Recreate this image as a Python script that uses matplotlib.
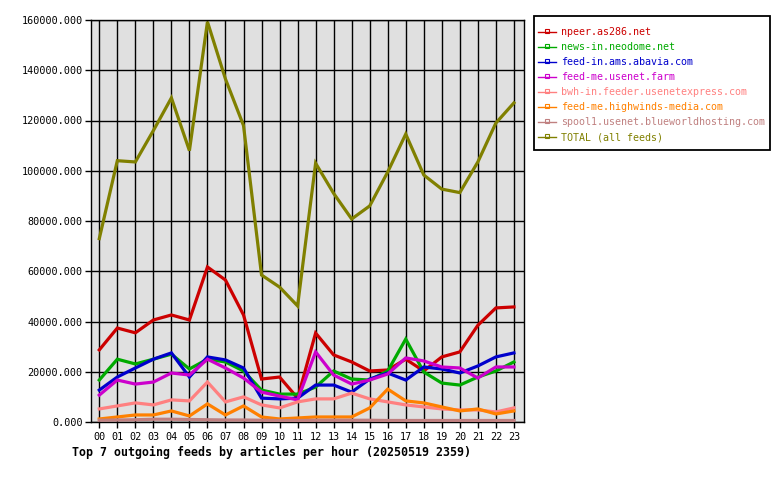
import matplotlib
matplotlib.use("Agg")
import matplotlib.pyplot as plt
from matplotlib.lines import Line2D

hours = ["%02d" % h for h in range(24)]

npeer = [28700, 37400, 35500, 40600, 42600, 40600, 61700, 56500, 42600, 17100, 17900, 9500,
         35400, 26700, 23900, 20300, 20700, 25000, 20300, 25900, 27900, 38500, 45400, 45800]
neodome = [16700, 25000, 23100, 25000, 27000, 21100, 25000, 23900, 20300, 12700, 11100, 11100,
           13900, 20300, 17100, 16700, 20300, 33000, 19900, 15500, 14700, 17900, 20300, 23900]
abavia = [12700, 17900, 21500, 25000, 27500, 17900, 25900, 24700, 21500, 9500, 9200, 9500,
          14700, 14700, 11900, 17100, 19500, 16700, 21900, 21100, 19500, 22300, 25900, 27500]
usenetfarm = [10700, 16700, 15100, 15900, 19500, 18700, 25000, 21500, 17500, 11900, 10300, 8800,
              27900, 18700, 15100, 16700, 19100, 25500, 24300, 21900, 21500, 17500, 21900, 21900]
usenetexpress = [5200, 6400, 7600, 6800, 8800, 8400, 15900, 8000, 10000, 6800, 5600, 8000,
                 9200, 9200, 11500, 9200, 8000, 6800, 6000, 5200, 4800, 4800, 4000, 5600]
highwinds = [1200, 2000, 2800, 2800, 4400, 2400, 7200, 2800, 6400, 2000, 1200, 1600,
             2000, 2000, 2000, 5600, 13100, 8400, 7600, 6000, 4400, 5200, 3200, 4400]
blueworld = [700, 800, 900, 1100, 1100, 1000, 900, 800, 800, 700, 600, 600,
             700, 700, 700, 700, 600, 600, 600, 600, 600, 600, 600, 600]
total = [73000, 104000, 103500, 116000, 129000, 108000, 159300, 136500, 118000, 58500, 53700, 46200,
         103000, 91000, 80800, 86000, 99500, 114600, 98300, 92700, 91300, 103500, 119000, 127000]

names = ["npeer.as286.net", "news-in.neodome.net", "feed-in.ams.abavia.com",
         "feed-me.usenet.farm", "bwh-in.feeder.usenetexpress.com",
         "feed-me.highwinds-media.com", "spool1.usenet.blueworldhosting.com",
         "TOTAL (all feeds)"]
series = [npeer, neodome, abavia, usenetfarm, usenetexpress, highwinds, blueworld, total]
colors = ["#cc0000", "#00aa00", "#0000cc", "#cc00cc", "#ff8080", "#ff8000", "#c08080", "#808000"]

yticks = list(range(0, 160001, 20000))
title = "Top 7 outgoing feeds by articles per hour (20250519 2359)"

mono = ["DejaVu Sans Mono"]
plt.rcParams["font.family"] = mono

fig = plt.figure(figsize=(7.8, 4.8), dpi=100)
W, H = 780, 480
ax = fig.add_axes([91 / W, (H - 422) / H, (524 - 91) / W, (422 - 20) / H])
ax.set_facecolor("#e0e0e0")

x = list(range(len(hours)))
for s, c in zip(series, colors):
    ax.plot(x, s, color=c, lw=2.3, solid_joinstyle="miter", zorder=3)

ax.set_xlim(-0.46, 23.56)
ax.set_ylim(0, 160000)
ax.set_xticks(x)
ax.set_xticklabels(hours)
ax.set_yticks(yticks)
ax.set_yticklabels(["%.3f" % v for v in yticks])
ax.grid(True, color="black", lw=1.0, zorder=1)
ax.set_axisbelow(True)
for sp in ax.spines.values():
    sp.set_color("black")
    sp.set_linewidth(1.0)
ax.tick_params(axis="both", direction="out", length=4, width=1, colors="black",
               labelsize=7.3, pad=2)
ax.tick_params(axis="x", pad=3)

fig.text(72 / W, 1 - 452 / H, title, fontsize=8.4, fontweight="bold",
         ha="left", va="center", family=mono)

# legend box
lx0, lx1, ly0, ly1 = 534, 770, 16, 150
box = plt.Rectangle((lx0 / W, 1 - ly1 / H), (lx1 - lx0) / W, (ly1 - ly0) / H,
                    transform=fig.transFigure, fill=False, edgecolor="black", lw=1.3)
fig.patches.append(box)
for i, (n, c) in enumerate(zip(names, colors)):
    yy = 1 - (32 + 15 * i) / H
    fig.lines.append(Line2D([538 / W, 556 / W], [yy, yy], transform=fig.transFigure,
                            color=c, lw=1.0))
    fig.lines.append(Line2D([547 / W], [yy + 1 / H], transform=fig.transFigure,
                            color=c, marker="s", ms=2.5, mfc="none", mew=0.8))
    fig.text(561 / W, yy, n, color=c, fontsize=7.2, ha="left", va="center", family=mono)

fig.savefig("out.png", dpi=100)
